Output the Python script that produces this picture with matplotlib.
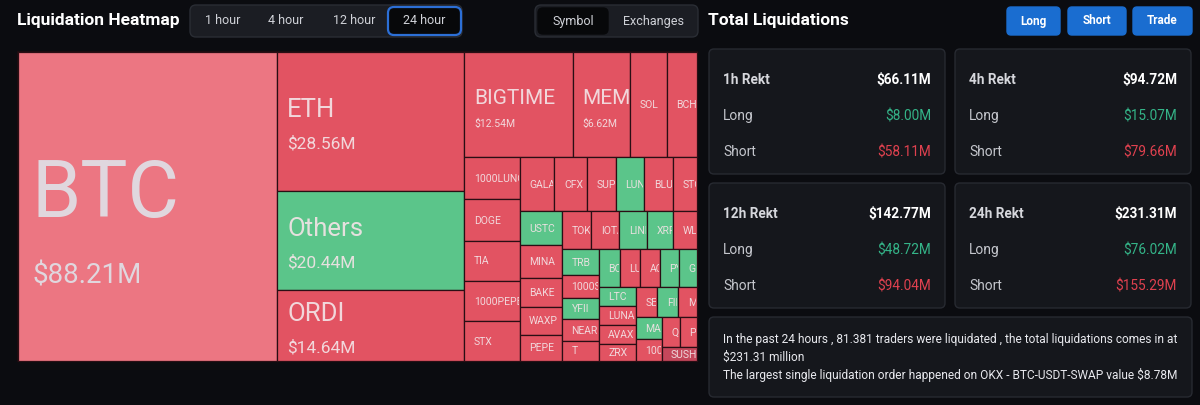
import matplotlib
matplotlib.use("Agg")
import matplotlib.pyplot as plt
from matplotlib.patches import Rectangle, FancyBboxPatch
from matplotlib.transforms import Bbox, TransformedBbox

# 24 hour liquidations by symbol ($M), in display order
symbols = ["BTC", "ETH", "Others", "ORDI", "BIGTIME", "MEM", "SOL", "BCH",
           "1000LUNC", "DOGE", "TIA", "1000PEPE", "STX",
           "GALA", "CFX", "SUPER", "LUNC", "BLUR", "STORJ",
           "USTC", "MINA", "BAKE", "WAXP", "PEPE",
           "TOKEN", "IOTA", "LINK", "XRP", "WLD",
           "TRB", "1000SATS", "YFII", "NEAR", "T",
           "BOND", "LUNR", "ACE", "PYTH", "GLMR",
           "LTC", "LUNA", "AVAX", "ZRX",
           "SEI", "FIL", "MANA", "MASK", "1000BONK", "QNT", "PEOPLE", "SUSHI"]
amounts = [88.21, 28.56, 20.44, 14.64, 12.54, 6.62, 4.28, 3.47,
           2.58, 2.52, 2.46, 2.44, 2.43,
           2.08, 1.93, 1.74, 1.70, 1.69, 1.45,
           1.59, 1.54, 1.34, 1.32, 1.22,
           1.23, 1.17, 1.16, 1.11, 0.99,
           1.05, 0.92, 0.87, 0.86, 0.82,
           0.87, 0.85, 0.80, 0.80, 0.75,
           0.78, 0.77, 0.75, 0.71,
           0.72, 0.71, 0.62, 0.63, 0.62, 0.61, 0.56, 0.54]
tones = ["p", "r", "g", "r", "r", "r", "r", "r",
         "r", "r", "r", "r", "r",
         "r", "r", "r", "g", "r", "r",
         "g", "r", "r", "r", "r",
         "r", "r", "g", "g", "r",
         "g", "r", "g", "r", "r",
         "g", "r", "r", "g", "g",
         "g", "r", "r", "r",
         "r", "g", "r", "g", "r", "r", "r", "d"]

# Total liquidations panels ($M)
periods = ["1h", "4h", "12h", "24h"]
rekt_total = [66.11, 94.72, 142.77, 231.31]
rekt_long = [8.00, 15.07, 48.72, 76.02]
rekt_short = [58.11, 79.66, 94.04, 155.29]

time_tabs = ["1 hour", "4 hour", "12 hour", "24 hour"]
view_tabs = ["Symbol", "Exchanges"]
buttons = ["Long", "Short", "Trade"]

summary = ["In the past 24 hours , 81.381 traders were liquidated , the total liquidations comes in at",
           "$231.31 million",
           "The largest single liquidation order happened on OKX - BTC-USDT-SWAP value $8.78M"]

BG = "#0b0c10"
PANEL = "#15171c"
PANEL_EDGE = "#272a31"
GREEN_TXT = "#34b488"
RED_TXT = "#e0414f"
TONE_COLORS = {"p": "#ec7682", "r": "#e25362", "g": "#5bc58a", "d": "#c5475b"}
FONT = "Roboto"


def squarify(values, x0, y0, w, h, ratio=0.5 * (1 + 5 ** 0.5)):
    # echarts-style squarified treemap (y grows downward)
    total = sum(values)
    areas = [v / total * w * h for v in values]
    rect = [x0, y0, w, h]
    cells = [None] * len(values)

    def worst(row, row_area, fixed):
        if not row_area:
            return float("inf")
        amax = max(areas[k] for k in row)
        amin = min(areas[k] for k in row)
        f = fixed * fixed * ratio
        sq = row_area * row_area
        return max(f * amax / sq, sq / (f * amin))

    def position(row, row_area, fixed, flush):
        horiz = fixed == rect[2]
        other = row_area / fixed if fixed else 0
        lim = rect[3] if horiz else rect[2]
        if flush or other > lim:
            other = lim
        last = rect[0] if horiz else rect[1]
        end = rect[0] + rect[2] if horiz else rect[1] + rect[3]
        for j, k in enumerate(row):
            step = areas[k] / other if other else 0
            remain = end - last
            mod = remain if (j == len(row) - 1 or remain < step) else step
            if horiz:
                cells[k] = (last, rect[1], mod, other)
            else:
                cells[k] = (rect[0], last, other, mod)
            last += mod
        if horiz:
            rect[1] += other
            rect[3] -= other
        else:
            rect[0] += other
            rect[2] -= other

    fixed = min(w, h)
    row, row_area, best = [], 0.0, float("inf")
    i = 0
    while i < len(values):
        row.append(i)
        row_area += areas[i]
        score = worst(row, row_area, fixed)
        if score <= best:
            i += 1
            best = score
        else:
            row.pop()
            row_area -= areas[i]
            position(row, row_area, fixed, False)
            fixed = min(rect[2], rect[3])
            row, row_area, best = [], 0.0, float("inf")
    if row:
        position(row, row_area, fixed, True)
    return cells


fig = plt.figure(figsize=(12, 4.05), dpi=100, facecolor=BG)
ax = fig.add_axes([0, 0, 1, 1])
ax.set_xlim(0, 1200)
ax.set_ylim(405, 0)
ax.axis("off")
ax.set_facecolor(BG)


def rbox(x, y, w, h, fc, ec, r=5, lw=1.0):
    ax.add_patch(FancyBboxPatch((x, y), w, h, boxstyle=f"round,pad=0,rounding_size={r}",
                                fc=fc, ec=ec, lw=lw))


# ---- header left
ax.text(17, 21, "Liquidation Heatmap", color="white", fontsize=12.5, fontweight="bold",
        family=FONT, va="center", ha="left")
rbox(190, 5, 272, 32, "#1b1d23", "#2a2d34", r=6)
rbox(388, 7, 73, 28, "#07080a", "#2c6fd6", r=6, lw=1.6)
for cx, lab in zip([223, 286, 354, 424], time_tabs):
    ax.text(cx, 21, lab, color="#d0d2d8", fontsize=9, family=FONT, ha="center", va="center")
rbox(535, 5, 163, 32, "#1b1d23", "#2a2d34", r=6)
rbox(538, 8, 70, 26, "#07080a", "#07080a", r=5)
for cx, lab in zip([573, 653], view_tabs):
    ax.text(cx, 21, lab, color="#d0d2d8", fontsize=9, family=FONT, ha="center", va="center")

# ---- header right
ax.text(708, 21, "Total Liquidations", color="white", fontsize=12.5, fontweight="bold",
        family=FONT, va="center", ha="left")
for (bx, bw), lab in zip([(1007, 53), (1068, 58), (1133, 59)], buttons):
    rbox(bx, 7, bw, 28, "#1a6dd0", "#1a6dd0", r=4)
    ax.text(bx + bw / 2, 21, lab, color="white", fontsize=8.5, fontweight="bold",
            family=FONT, ha="center", va="center")

# ---- treemap
TX, TY, TW, TH = 18, 52, 679, 309
ax.add_patch(Rectangle((TX - 1, TY - 1), TW + 2, TH + 2, fc="#1a0c10", ec="none"))
cells = squarify(amounts, TX, TY, TW, TH)
for name, val, tone, (cx, cy, cw, ch) in zip(symbols, amounts, tones, cells):
    patch = Rectangle((cx, cy), cw, ch, fc=TONE_COLORS[tone], ec="#2a0e14", lw=0.9)
    ax.add_patch(patch)
    mid = cy + ch / 2
    if val > 50:
        specs = [(name, 57, mid + 11, "#dfe0e7"), (f"${val:.2f}M", 20, mid + 77, "#dfe0e7")]
        pad = 14
    elif val > 14:
        specs = [(name, 18.5, mid - 4, "#f3e3e6"), (f"${val:.2f}M", 12.5, mid + 27, "#f3e3e6")]
        pad = 10
    elif val > 6:
        specs = [(name, 15, mid, "#f3e3e6"), (f"${val:.2f}M", 7.5, mid + 22, "#f3e3e6")]
        pad = 10
    else:
        specs = [(name, 7.5, mid + 3.5, "#f3e3e6")]
        pad = 9.5
    clip = TransformedBbox(Bbox.from_bounds(cx + 0.5, cy + 0.5, cw - 1.5, ch - 1), ax.transData)
    for txt, fs, yb, col in specs:
        t = ax.text(cx + pad, yb, txt, fontsize=fs, color=col, family=FONT,
                    ha="left", va="baseline", alpha=0.92)
        t.set_clip_box(clip)
        t.set_clip_on(True)

# ---- rekt panels
for n, (p, tot, lg, sh) in enumerate(zip(periods, rekt_total, rekt_long, rekt_short)):
    px = 709 + (n % 2) * 246
    py = 49 + (n // 2) * 134
    rbox(px, py, 236, 125, PANEL, PANEL_EDGE, r=5)
    ax.text(px + 14, py + 31, f"{p} Rekt", color="#d6d7dc", fontsize=9.8, fontweight="bold",
            family=FONT, va="center")
    ax.text(px + 222, py + 31, f"${tot:.2f}M", color="white", fontsize=9.8, fontweight="bold",
            family=FONT, va="center", ha="right")
    ax.text(px + 14, py + 67, "Long", color="#c4c6cc", fontsize=10, family=FONT, va="center")
    ax.text(px + 222, py + 67, f"${lg:.2f}M", color=GREEN_TXT, fontsize=9.8,
            family=FONT, va="center", ha="right")
    ax.text(px + 14, py + 103, "Short", color="#c4c6cc", fontsize=10, family=FONT, va="center")
    ax.text(px + 222, py + 103, f"${sh:.2f}M", color=RED_TXT, fontsize=9.8,
            family=FONT, va="center", ha="right")

# ---- summary box
rbox(709, 317, 483, 80, PANEL, PANEL_EDGE, r=5)
for k, line in enumerate(summary):
    ax.text(723, 340 + k * 17.5, line, color="#e8e9ee", fontsize=8.6, family=FONT, va="center")

fig.savefig("out.png", dpi=100, facecolor=BG)
